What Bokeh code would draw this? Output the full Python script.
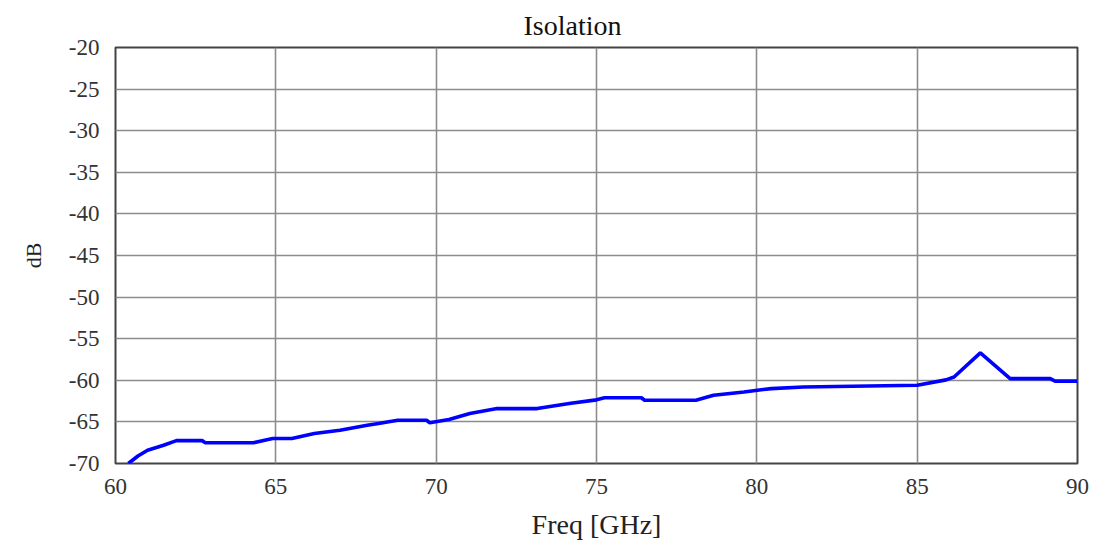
from bokeh.plotting import figure
from bokeh.embed import file_html
from bokeh.resources import INLINE
from bokeh.models import Range1d, FixedTicker, Title, CustomJSTickFormatter

freq_ghz = [60.4, 60.7, 61.0, 61.5, 61.9, 62.7, 62.8, 64.3, 64.9, 65.5, 66.2, 67.0,
            67.85, 68.2, 68.8, 69.7, 69.8, 70.4, 71.05, 71.9, 73.15, 74.2, 75.0, 75.25,
            76.4, 76.5, 78.1, 78.65, 79.6, 80.2, 80.45, 81.45, 85.0, 85.9, 86.15,
            86.97, 87.9, 89.15, 89.3, 90.0]
isolation_db = [-70.0, -69.1, -68.4, -67.8, -67.25, -67.25, -67.5, -67.5, -67.0, -67.0,
                -66.4, -66.0, -65.4, -65.2, -64.8, -64.8, -65.1, -64.7, -64.0, -63.4,
                -63.4, -62.75, -62.35, -62.1, -62.1, -62.4, -62.4, -61.8, -61.4, -61.1,
                -61.0, -60.8, -60.6, -59.95, -59.6, -56.7, -59.8, -59.8, -60.1, -60.1]

x_ticks = [60, 65, 70, 75, 80, 85, 90]
y_ticks = [-20, -25, -30, -35, -40, -45, -50, -55, -60, -65, -70]

FONT = "Liberation Serif"

p = figure(width=1098, height=539, output_backend="svg", toolbar_location=None,
           x_range=Range1d(60, 90), y_range=Range1d(-70, -20),
           min_border_left=115, min_border_right=21, min_border_top=47, min_border_bottom=76)
p.frame_width = 962
p.frame_height = 416

p.add_layout(Title(text="Isolation", align="left", offset=408,
                   text_font=FONT, text_font_size="28px", text_font_style="normal",
                   text_color="#111111", standoff=13), "above")

p.line(freq_ghz, isolation_db, line_color="#0000ff", line_width=3.6)

fmt = CustomJSTickFormatter(code="return String(tick);")
for ax in (p.xaxis[0], p.yaxis[0]):
    ax.axis_line_color = None
    ax.major_tick_line_color = None
    ax.minor_tick_line_color = None
    ax.major_label_text_font = FONT
    ax.major_label_text_font_size = "23px"
    ax.major_label_text_color = "#333333"
    ax.axis_label_text_font = FONT
    ax.axis_label_text_font_style = "normal"
    ax.axis_label_text_color = "#222222"
    ax.formatter = fmt

p.xaxis.ticker = FixedTicker(ticks=x_ticks)
p.yaxis.ticker = FixedTicker(ticks=y_ticks)
p.xaxis.axis_label = "Freq [GHz]"
p.yaxis.axis_label = "dB"
p.xaxis.axis_label_text_font_size = "28px"
p.yaxis.axis_label_text_font_size = "22px"
p.xaxis.major_label_standoff = 9
p.yaxis.major_label_standoff = 10
p.xaxis.axis_label_standoff = 12
p.yaxis.axis_label_standoff = 20

p.xgrid.ticker = FixedTicker(ticks=x_ticks)
p.ygrid.ticker = FixedTicker(ticks=y_ticks)
for g in (p.xgrid[0], p.ygrid[0]):
    g.grid_line_color = "#8c8c8c"
    g.grid_line_width = 1.6

p.outline_line_color = "#444444"
p.outline_line_width = 2
p.background_fill_color = "white"
p.border_fill_color = "white"

open("out.html", "w").write(file_html(p, INLINE))
